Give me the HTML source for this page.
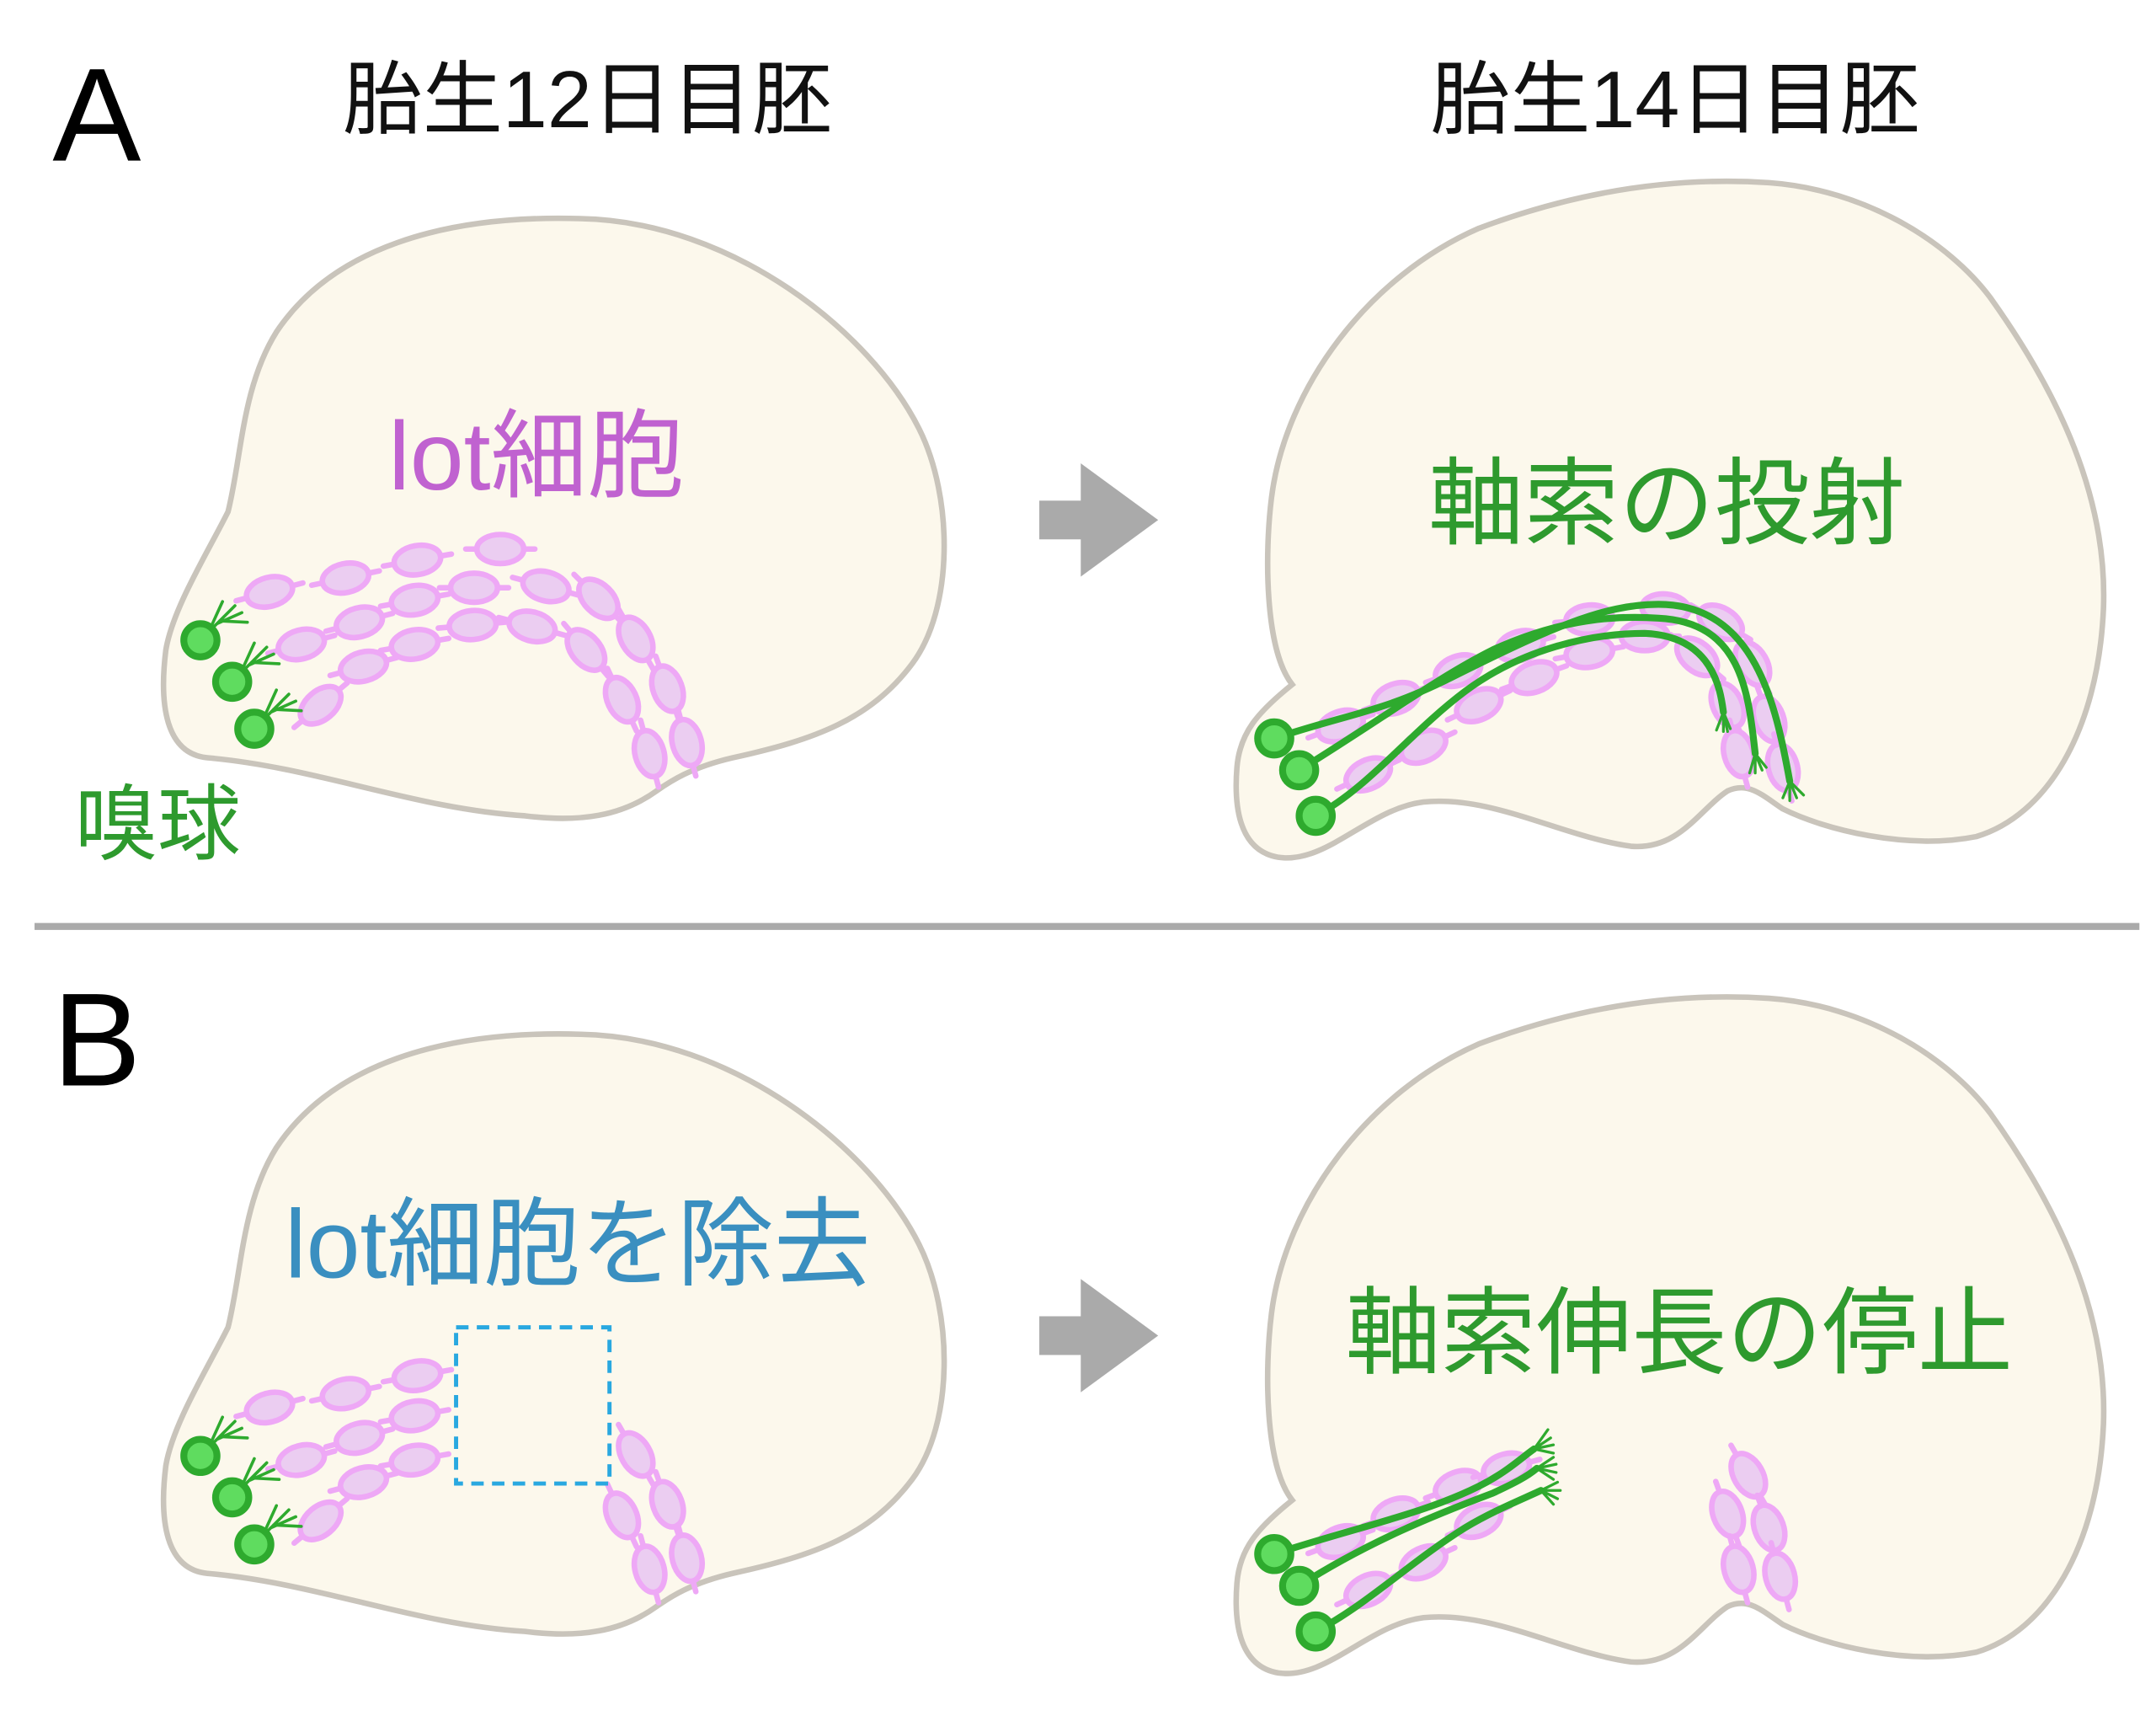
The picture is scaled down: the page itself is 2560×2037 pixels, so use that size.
<!DOCTYPE html>
<html><head><meta charset="utf-8"><style>
html,body{margin:0;padding:0;background:#fff;}
svg{display:block;}
text{font-family:"Liberation Sans","Noto Sans CJK JP",sans-serif;}
</style></head><body>
<svg width="2560" height="2037" viewBox="0 0 1560 1241" xmlns="http://www.w3.org/2000/svg">
<defs>
<path id="bl" d="M120,470 C125,440 150,400 165,370 C175,330 175,280 200,240 C240,180 320,155 420,158 C530,160 630,240 665,310 C690,360 690,440 660,480 C630,520 590,535 530,548 C500,555 485,565 475,572 C450,590 420,595 380,590 C300,585 230,555 150,548 C120,545 115,510 120,470 Z"/>
<path id="br" d="M935,495 C915,470 915,400 920,360 C930,280 990,200 1070,165 C1150,135 1220,128 1280,132 C1350,137 1410,175 1440,215 C1490,285 1525,360 1522,440 C1518,530 1480,590 1430,605 C1380,615 1320,600 1290,585 C1275,575 1265,565 1250,572 C1230,585 1215,615 1180,612 C1130,605 1080,575 1030,580 C990,585 960,625 925,620 C895,615 893,580 895,555 C897,530 910,515 935,495 Z"/>
<g id="cell"><ellipse rx="17" ry="10.5" fill="#ebcdf1" stroke="#eea8f6" stroke-width="4"/><path d="M-17,0 h-8 M17,0 h8" stroke="#eea8f6" stroke-width="4" stroke-linecap="round"/></g>
<g id="neu"><path d="M0,0 l18,-18 M6,-6 l10,-22 M9,-9 l16,-16 M12,-12 l18,-8 M14,-14 l20,1" stroke="#2eaa2e" stroke-width="2.2" fill="none" stroke-linecap="round"/><circle r="12" fill="#5fdc5f" stroke="#2eaa2e" stroke-width="5"/></g>
<g id="neu2"><circle r="12" fill="#5fdc5f" stroke="#2eaa2e" stroke-width="5"/></g>
<g id="arrow" fill="#aaaaaa"><rect x="752" y="362" width="32" height="28"/><path d="M782,335 L838,376 L782,417 Z"/></g>
</defs>

<text x="38" y="116" font-size="96">A</text>
<text x="425" y="92" font-size="58" text-anchor="middle" fill="#111">胎生12日目胚</text>
<text x="1212" y="92" font-size="58" text-anchor="middle" fill="#111">胎生14日目胚</text>

<use href="#bl" fill="#fcf8ec" stroke="#c9c4bb" stroke-width="4"/>
<text x="388" y="354" font-size="70" text-anchor="middle" fill="#c062d0">lot細胞</text>
<g>
<use href="#cell" transform="translate(195,428) rotate(-15)"/>
<use href="#cell" transform="translate(250,418) rotate(-12)"/>
<use href="#cell" transform="translate(302,405) rotate(-10)"/>
<use href="#cell" transform="translate(362,397) rotate(0)"/>
<use href="#cell" transform="translate(395,424) rotate(15)"/>
<use href="#cell" transform="translate(433,433) rotate(45)"/>
<use href="#cell" transform="translate(460,462) rotate(60)"/>
<use href="#cell" transform="translate(483,498) rotate(70)"/>
<use href="#cell" transform="translate(497,537) rotate(75)"/>
<use href="#cell" transform="translate(218,466) rotate(-15)"/>
<use href="#cell" transform="translate(260,450) rotate(-15)"/>
<use href="#cell" transform="translate(300,434) rotate(-10)"/>
<use href="#cell" transform="translate(343,425) rotate(0)"/>
<use href="#cell" transform="translate(385,453) rotate(15)"/>
<use href="#cell" transform="translate(424,470) rotate(50)"/>
<use href="#cell" transform="translate(450,506) rotate(65)"/>
<use href="#cell" transform="translate(470,545) rotate(75)"/>
<use href="#cell" transform="translate(232,510) rotate(-40)"/>
<use href="#cell" transform="translate(263,482) rotate(-15)"/>
<use href="#cell" transform="translate(300,466) rotate(-10)"/>
<use href="#cell" transform="translate(342,452) rotate(-5)"/>
</g>
<use href="#neu" x="145" y="463"/>
<use href="#neu" x="168" y="493"/>
<use href="#neu" x="184" y="527"/>
<text x="54" y="617" font-size="60" fill="#2e9a2e">嗅球</text>

<use href="#arrow"/>

<use href="#br" fill="#fcf8ec" stroke="#c9c4bb" stroke-width="4"/>
<text x="1206" y="388" font-size="69" text-anchor="middle" fill="#2e9a2e">軸索の投射</text>
<g>
<use href="#cell" transform="translate(970,525) rotate(-20)"/>
<use href="#cell" transform="translate(1010,505) rotate(-20)"/>
<use href="#cell" transform="translate(1055,485) rotate(-20)"/>
<use href="#cell" transform="translate(1100,467) rotate(-15)"/>
<use href="#cell" transform="translate(1150,448) rotate(-5)"/>
<use href="#cell" transform="translate(1205,440) rotate(5)"/>
<use href="#cell" transform="translate(1245,450) rotate(30)"/>
<use href="#cell" transform="translate(1268,480) rotate(60)"/>
<use href="#cell" transform="translate(1280,520) rotate(70)"/>
<use href="#cell" transform="translate(1290,555) rotate(75)"/>
<use href="#cell" transform="translate(990,560) rotate(-25)"/>
<use href="#cell" transform="translate(1030,540) rotate(-25)"/>
<use href="#cell" transform="translate(1070,510) rotate(-25)"/>
<use href="#cell" transform="translate(1110,490) rotate(-20)"/>
<use href="#cell" transform="translate(1150,472) rotate(-10)"/>
<use href="#cell" transform="translate(1190,460) rotate(0)"/>
<use href="#cell" transform="translate(1228,475) rotate(40)"/>
<use href="#cell" transform="translate(1250,510) rotate(65)"/>
<use href="#cell" transform="translate(1258,545) rotate(75)"/>
</g>
<g stroke="#2eaa2e" stroke-width="5" fill="none" stroke-linecap="round">
<path d="M922,534 C980,515 1000,515 1050,490 C1120,455 1160,437 1200,437 C1270,437 1285,510 1295,565"/>
<path d="M940,557 C1000,520 1040,490 1080,470 C1130,447 1170,445 1200,447 C1260,450 1265,500 1270,545"/>
<path d="M952,590 C990,570 1020,530 1060,500 C1100,470 1150,458 1190,458 C1240,460 1245,500 1247,515"/>
</g>
<g stroke="#2eaa2e" stroke-width="2" fill="none" stroke-linecap="round">
<path d="M1295,565 l-5,12 M1295,565 l0,14 M1295,565 l5,12 M1295,565 l10,10"/>
<path d="M1270,545 l-4,14 M1270,545 l0,14 M1270,545 l5,12 M1270,545 l8,10"/>
<path d="M1247,515 l-5,13 M1247,515 l0,14 M1247,515 l5,12 M1247,515 l3,14"/>
</g>
<use href="#neu2" x="922" y="534"/>
<use href="#neu2" x="940" y="557"/>
<use href="#neu2" x="952" y="590"/>

<line x1="25" y1="670" x2="1548" y2="670" stroke="#aaaaaa" stroke-width="5"/>

<text x="38" y="785" font-size="96">B</text>

<use href="#bl" y="590" fill="#fcf8ec" stroke="#c9c4bb" stroke-width="4"/>
<text x="418" y="924" font-size="70" text-anchor="middle" fill="#3a8fc0">lot細胞を除去</text>
<g transform="translate(0,590)">
<use href="#cell" transform="translate(195,428) rotate(-15)"/>
<use href="#cell" transform="translate(250,418) rotate(-12)"/>
<use href="#cell" transform="translate(302,405) rotate(-10)"/>
<use href="#cell" transform="translate(460,462) rotate(60)"/>
<use href="#cell" transform="translate(483,498) rotate(70)"/>
<use href="#cell" transform="translate(497,537) rotate(75)"/>
<use href="#cell" transform="translate(218,466) rotate(-15)"/>
<use href="#cell" transform="translate(260,450) rotate(-15)"/>
<use href="#cell" transform="translate(300,434) rotate(-10)"/>
<use href="#cell" transform="translate(450,506) rotate(65)"/>
<use href="#cell" transform="translate(470,545) rotate(75)"/>
<use href="#cell" transform="translate(232,510) rotate(-40)"/>
<use href="#cell" transform="translate(263,482) rotate(-15)"/>
<use href="#cell" transform="translate(300,466) rotate(-10)"/>
</g>
<rect x="330" y="960" width="111" height="113" fill="none" stroke="#29a8e0" stroke-width="3" stroke-dasharray="9,6"/>
<use href="#neu" x="145" y="1053"/>
<use href="#neu" x="168" y="1083"/>
<use href="#neu" x="184" y="1117"/>

<use href="#arrow" y="590"/>

<use href="#br" y="590" fill="#fcf8ec" stroke="#c9c4bb" stroke-width="4"/>
<text x="1215" y="988" font-size="69" text-anchor="middle" fill="#2e9a2e">軸索伸長の停止</text>
<g transform="translate(0,590)">
<use href="#cell" transform="translate(970,525) rotate(-20)"/>
<use href="#cell" transform="translate(1010,505) rotate(-20)"/>
<use href="#cell" transform="translate(1055,485) rotate(-20)"/>
<use href="#cell" transform="translate(1090,472) rotate(-15)"/>
<use href="#cell" transform="translate(990,560) rotate(-25)"/>
<use href="#cell" transform="translate(1030,540) rotate(-25)"/>
<use href="#cell" transform="translate(1070,510) rotate(-25)"/>
<use href="#cell" transform="translate(1265,477) rotate(60)"/>
<use href="#cell" transform="translate(1250,505) rotate(70)"/>
<use href="#cell" transform="translate(1280,515) rotate(70)"/>
<use href="#cell" transform="translate(1258,545) rotate(75)"/>
<use href="#cell" transform="translate(1288,550) rotate(75)"/>
</g>
<g stroke="#2eaa2e" stroke-width="5" fill="none" stroke-linecap="round">
<path d="M922,1124 C980,1105 1030,1095 1070,1075 C1090,1065 1100,1055 1110,1048"/>
<path d="M940,1147 C990,1115 1040,1095 1080,1080 C1095,1073 1105,1068 1112,1062"/>
<path d="M952,1180 C990,1160 1020,1130 1060,1105 C1080,1093 1100,1085 1115,1078"/>
</g>
<g stroke="#2eaa2e" stroke-width="2" fill="none" stroke-linecap="round">
<path d="M1110,1048 l10,-14 M1110,1048 l12,-8 M1110,1048 l14,-3 M1110,1048 l14,3"/>
<path d="M1112,1062 l12,-8 M1112,1062 l14,-3 M1112,1062 l14,3 M1112,1062 l12,8"/>
<path d="M1115,1078 l12,-6 M1115,1078 l14,0 M1115,1078 l12,6 M1115,1078 l9,10"/>
</g>
<use href="#neu2" x="922" y="1124"/>
<use href="#neu2" x="940" y="1147"/>
<use href="#neu2" x="952" y="1180"/>
</svg>
</body></html>
